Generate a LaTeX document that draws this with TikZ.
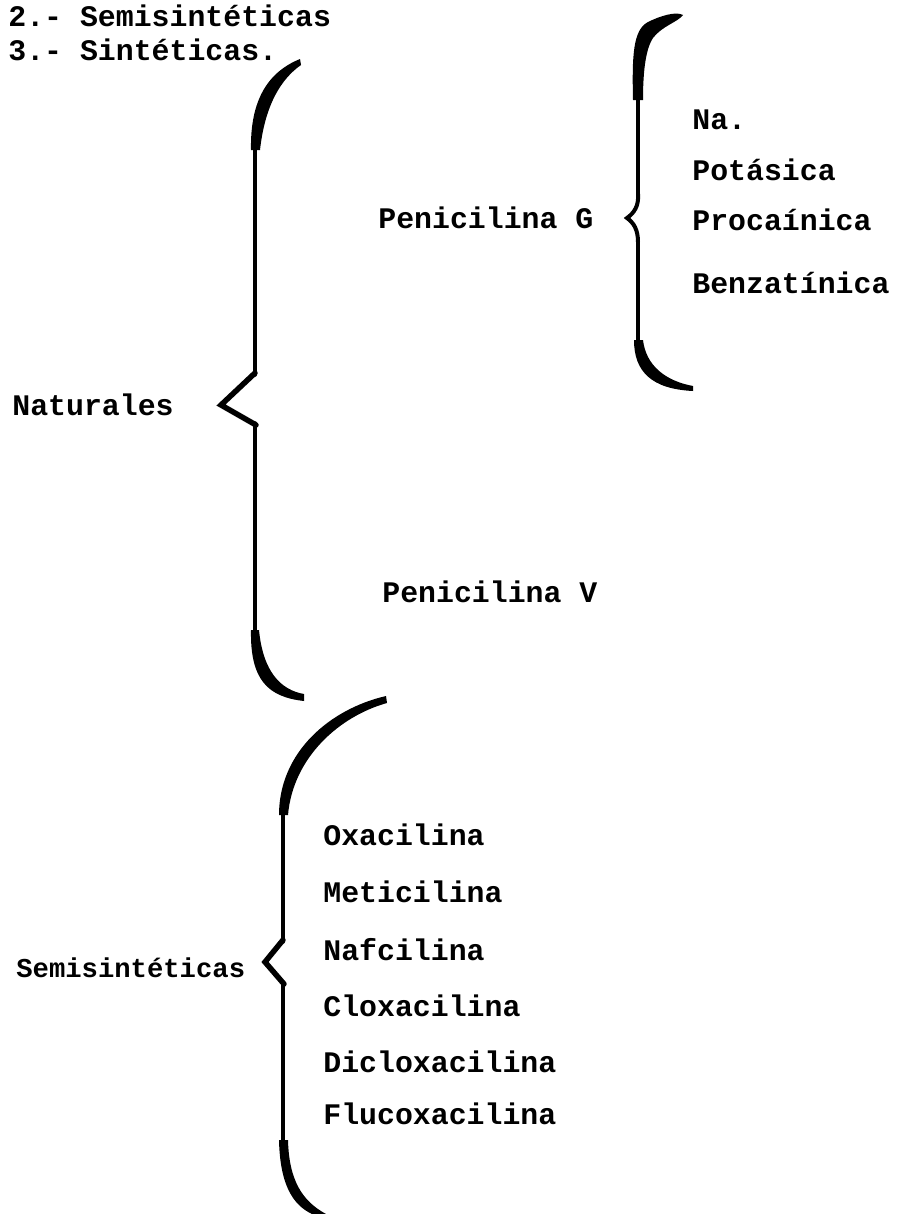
\documentclass[tikz,border=0pt]{standalone}
\usepackage{fontspec}
\newfontfamily\tw{Liberation Mono}
\tikzset{
  lbl/.style={anchor=west, inner sep=0pt, font=\tw\bfseries\fontsize{17}{19}\selectfont},
  lbls/.style={lbl, font=\tw\bfseries\fontsize{15.5}{18}\selectfont},
  stem/.style={line width=0.07cm, line cap=round},
  tipline/.style={line width=0.11cm, line join=miter, line cap=round}
}
\begin{document}
\begin{tikzpicture}[x=0.02cm,y=-0.02cm]
\useasboundingbox[fill=white] (0,0) rectangle (905,1214);

% headings
\node[lbl] (h2) at (8,16) {2.- Semisintéticas};
\node[lbl] (h3) at (8,50) {3.- Sintéticas.};

% ---------------- brace 1 (Naturales)
\node[lbl] (nat) at (12,405) {Naturales};
\coordinate (b1tip) at (221,405);
\fill (251,150) .. controls (250,100) and (268,72) .. (300,59) -- (301,65) .. controls (281,79) and (265,105) .. (260,150) -- cycle;
\draw[stem] (255,145) -- (255,375);
\draw[tipline] (255,373) -- (b1tip) -- (256,425);
\draw[stem] (255,423) -- (255,640);
\fill (251,630) .. controls (250,680) and (268,697) .. (304,701) -- (304,694) .. controls (281,690) and (263,672) .. (259,630) -- cycle;

% ---------------- brace 2 (Penicilina G)
\node[lbl] (penG) at (378,218) {Penicilina G};
\coordinate (b2tip) at (627,218);
\fill (633,100) .. controls (632,55) and (633,30) .. (648,22) .. controls (660,16) and (676,11) .. (683,15) .. controls (678,22) and (662,26) .. (653,38) .. controls (645,50) and (643,75) .. (643,100) -- cycle;
\draw[stem] (638,95) -- (638,196);
\draw[line width=0.08cm] (638,194) .. controls (639,206) and (634,213) .. (b2tip) .. controls (634,223) and (638,230) .. (638,242);
\draw[stem] (638,240) -- (638,345);
\fill (634,340) .. controls (634,372) and (652,389) .. (693,391) -- (693,386) .. controls (666,381) and (646,366) .. (643,340) -- cycle;

\node[lbl] (na)  at (692,120) {Na.};
\node[lbl] (pot) at (692,170) {Potásica};
\node[lbl] (pro) at (692,220) {Procaínica};
\node[lbl] (ben) at (692,283) {Benzatínica};

\node[lbl] (penV) at (382,592) {Penicilina V};

% ---------------- brace 3 (Semisintéticas)
\node[lbls] (semi) at (16,968) {Semisintéticas};
\coordinate (b3tip) at (265,962);
\fill (279,815) .. controls (279,752) and (330,709) .. (386,696) -- (387,703) .. controls (340,716) and (293,757) .. (288,815) -- cycle;
\draw[stem] (283,805) -- (283,942);
\draw[tipline] (283,940) -- (b3tip) -- (284,984);
\draw[stem] (283,982) -- (283,1145);
\fill (279,1140) .. controls (280,1185) and (293,1205) .. (312,1214) -- (326,1214) .. controls (302,1201) and (289,1180) .. (288,1140) -- cycle;

\node[lbl] (oxa) at (323,835) {Oxacilina};
\node[lbl] (met) at (323,892) {Meticilina};
\node[lbl] (naf) at (323,950) {Nafcilina};
\node[lbl] (clo) at (323,1006) {Cloxacilina};
\node[lbl] (dic) at (323,1062) {Dicloxacilina};
\node[lbl] (flu) at (323,1114) {Flucoxacilina};
\end{tikzpicture}
\end{document}
